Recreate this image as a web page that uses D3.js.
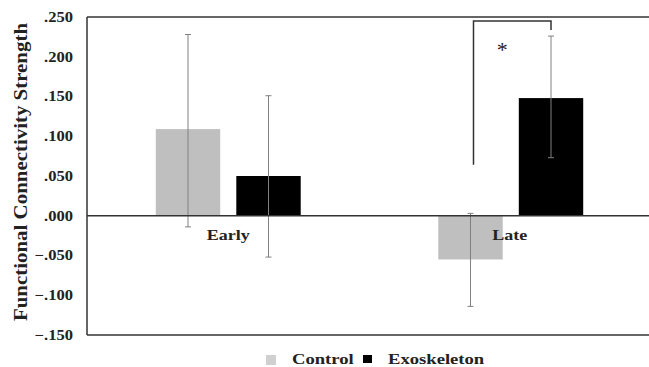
<!DOCTYPE html>
<html>
<head>
<meta charset="utf-8">
<script src="https://cdn.jsdelivr.net/npm/d3@7"></script>
<style>
  body { margin: 0; background: #fff; }
  svg text { font-family: "Liberation Serif", "Times New Roman", "DejaVu Serif", serif; font-weight: bold; fill: #222; }
</style>
</head>
<body>
<div id="chart"></div>
<script>
var phases = ["Early", "Late"];
var groups = ["Control", "Exoskeleton"];
var means = [[0.109, 0.050], [-0.055, 0.148]];
var errLow = [[-0.014, -0.052], [-0.114, 0.073]];
var errHigh = [[0.228, 0.151], [0.003, 0.226]];
var yTicks = [0.25, 0.2, 0.15, 0.1, 0.05, 0, -0.05, -0.1, -0.15];
var colors = ["#bfbfbf", "#000000"];

var width = 649, height = 367;
var mLeft = 87, mRight = 652, mTop = 17, mBottom = 335;
var serif = "'Liberation Serif', 'Times New Roman', serif";

var svg = d3.select("#chart").append("svg")
    .attr("width", width).attr("height", height)
    .attr("font-family", serif);

var y = d3.scaleLinear().domain([-0.15, 0.25]).range([mBottom, mTop]);
var x0 = d3.scaleBand().domain(phases).range([mLeft, mRight]).paddingInner(0.487).paddingOuter(0.2435);
var x1 = d3.scaleBand().domain(groups).range([0, x0.bandwidth()]).paddingInner(0.2);

function fmt(v) {
    var s = d3.format(".3f")(v);
    return s.replace("0.", ".");
}

// the scanned figure has wide-set lettering, so stretch text sideways
function stretch(sel, k) {
    sel.each(function() {
        var w = this.getComputedTextLength();
        d3.select(this).attr("textLength", w * k).attr("lengthAdjust", "spacingAndGlyphs");
    });
}

// frame lines
svg.append("line").attr("x1", mLeft).attr("x2", width).attr("y1", mTop).attr("y2", mTop)
    .attr("stroke", "#333").attr("stroke-width", 1.5);
svg.append("line").attr("x1", mLeft).attr("x2", width).attr("y1", mBottom).attr("y2", mBottom)
    .attr("stroke", "#333").attr("stroke-width", 1.5);
svg.append("line").attr("x1", mLeft).attr("x2", mLeft).attr("y1", mTop).attr("y2", mBottom)
    .attr("stroke", "#333").attr("stroke-width", 1.5);

// y axis labels
var yAxis = d3.axisLeft(y).tickValues(yTicks).tickFormat(fmt).tickSize(0).tickPadding(14);
var ya = svg.append("g").attr("transform", "translate(" + mLeft + ",0)").call(yAxis);
ya.attr("font-family", serif);
ya.select(".domain").remove();
ya.selectAll("text").style("font-size", "14px").attr("fill", "#222");
stretch(ya.selectAll("text"), 1.18);

// y title
var title = svg.append("text")
    .attr("transform", "translate(27,172) rotate(-90)")
    .attr("text-anchor", "middle")
    .style("font-size", "19px")
    .text("Functional Connectivity Strength");
stretch(title, 1.1);

// bars
var g = svg.selectAll("g.phase").data(phases).enter().append("g")
    .attr("class", "phase")
    .attr("transform", function(d) { return "translate(" + x0(d) + ",0)"; });

g.selectAll("rect").data(function(d, i) {
        return groups.map(function(s, j) { return {s: s, j: j, v: means[i][j]}; });
    })
    .enter().append("rect")
    .attr("x", function(d) { return x1(d.s); })
    .attr("width", x1.bandwidth())
    .attr("y", function(d) { return y(Math.max(0, d.v)); })
    .attr("height", function(d) { return Math.abs(y(d.v) - y(0)); })
    .attr("fill", function(d) { return colors[d.j]; });

// zero line
svg.append("line").attr("x1", mLeft).attr("x2", width).attr("y1", y(0)).attr("y2", y(0))
    .attr("stroke", "#333").attr("stroke-width", 1.5);

// error bars
var eb = g.selectAll("g.err").data(function(d, i) {
        return groups.map(function(s, j) { return {s: s, j: j, lo: errLow[i][j], hi: errHigh[i][j]}; });
    })
    .enter().append("g").attr("class", "err")
    .attr("transform", function(d) { return "translate(" + (x1(d.s) + x1.bandwidth() / 2) + ",0)"; });
eb.append("line").attr("y1", function(d) { return y(d.lo); }).attr("y2", function(d) { return y(d.hi); })
    .attr("stroke", "#808080").attr("stroke-width", 1);
eb.append("line").attr("x1", -3).attr("x2", 3)
    .attr("y1", function(d) { return y(d.hi); }).attr("y2", function(d) { return y(d.hi); })
    .attr("stroke", "#808080").attr("stroke-width", 1);
eb.append("line").attr("x1", -3).attr("x2", 3)
    .attr("y1", function(d) { return y(d.lo); }).attr("y2", function(d) { return y(d.lo); })
    .attr("stroke", "#808080").attr("stroke-width", 1);

// category labels
var cats = svg.selectAll("text.cat").data(phases).enter().append("text")
    .attr("class", "cat")
    .attr("x", function(d, i) { return x0(d) + x0.bandwidth() / 2 + (i === 1 ? -1 : 0); })
    .attr("y", y(0) + 24)
    .attr("text-anchor", "middle")
    .style("font-size", "15px")
    .text(function(d) { return d; });
stretch(cats, 1.2);

// significance bracket on Late
var lx = x0("Late") + x1("Control") + x1.bandwidth() / 2 + 3;
var rx = x0("Late") + x1("Exoskeleton") + x1.bandwidth() / 2;
var by = 21;
svg.append("path")
    .attr("d", "M" + lx + "," + y(0.064) + "V" + by + "H" + rx + "V" + (by + 9))
    .attr("fill", "none").attr("stroke", "#333").attr("stroke-width", 1.5);
svg.append("text").attr("x", (lx + rx) / 2 - 10).attr("y", 57)
    .attr("text-anchor", "middle").style("font-size", "22px").style("font-weight", "normal")
    .attr("fill", "#444").text("*");

// legend
var leg = svg.append("g").attr("transform", "translate(266,359)");
var lx0 = [0, 97];
var legItems = leg.selectAll("g").data(groups).enter().append("g")
    .attr("transform", function(d, i) { return "translate(" + lx0[i] + ",0)"; });
legItems.append("rect").attr("x", 0).attr("y", -4).attr("width", function(d, i) { return i === 0 ? 10 : 9; })
    .attr("height", function(d, i) { return i === 0 ? 10 : 8; })
    .attr("fill", function(d, i) { return i === 0 ? "#d0d0d0" : colors[i]; });
var legText = legItems.append("text").attr("x", function(d, i) { return i === 0 ? 26 : 25; }).attr("y", 5)
    .style("font-size", "14px").text(function(d) { return d; });
stretch(legText, 1.33);
</script>
</body>
</html>
